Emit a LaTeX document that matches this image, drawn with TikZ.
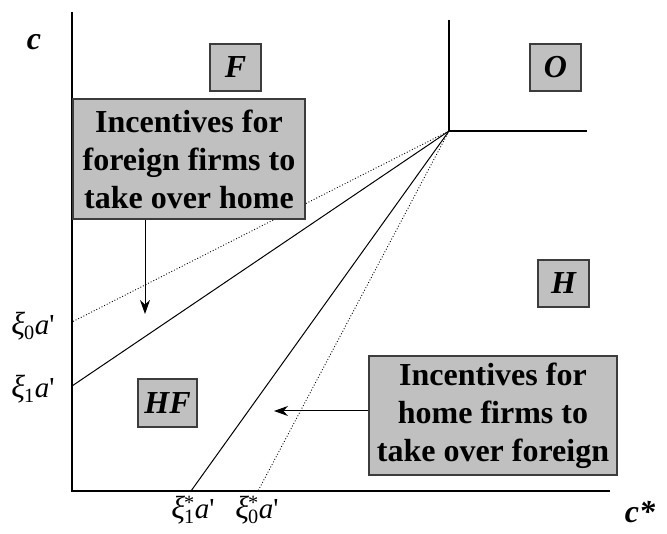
\documentclass[tikz,border=0pt]{standalone}
\usepackage{fontspec}
\setmainfont{Liberation Serif}
\newfontfamily\plainserif{Liberation Serif}[Ligatures=TeXOff]
\usetikzlibrary{arrows.meta}
\definecolor{boxgray}{RGB}{192,192,192}
\definecolor{boxline}{RGB}{60,60,60}
\newcommand\xiglyph{{\fontsize{32}{32}\selectfont\itshape ξ}}
\newcommand\prm{{\plainserif\char"0027}}
\newcommand\xil[1]{\xiglyph\kern-1pt\textsubscript{#1}{\itshape a}\prm}
\newcommand\xis[1]{\xiglyph\kern-1pt\rlap{\textsuperscript{*}}\textsubscript{#1}{\itshape a}\prm}
\begin{document}
\begin{tikzpicture}[x=1pt,y=-1pt,
  gbox/.style={draw=boxline,fill=boxgray,line width=1.1pt,inner sep=0pt,align=center},
  letter/.style={gbox,font=\fontsize{32}{38}\selectfont\bfseries\itshape},
  bigbox/.style={gbox,font=\fontsize{32}{38}\selectfont\bfseries},
  axislbl/.style={font=\fontsize{32}{38}\selectfont\bfseries\itshape},
  xilbl/.style={font=\fontsize{29}{32}\selectfont,inner sep=0pt},
  ax/.style={line width=1.2pt},
  ln/.style={line width=1pt},
  dt/.style={line width=0.9pt,dotted},
  arr/.style={line width=1pt,-{Stealth[length=14pt,width=10pt]}}]
\useasboundingbox (0,0) rectangle (667,534);
% axes
\coordinate (top) at (72,12);
\coordinate (orig) at (72,491);
\coordinate (xend) at (610,491);
\draw[ax] (top) -- (orig) -- (xend);
% kink point
\coordinate (K) at (449,131);
\coordinate (Ktop) at (449,20);
\coordinate (Kright) at (587,131);
\draw[ax] (Ktop) -- (K) -- (Kright);
% rays
\coordinate (y0) at (72,322);
\coordinate (y1) at (72,386);
\coordinate (x1) at (191,491);
\coordinate (x0) at (258,491);
\draw[dt] (K) -- (y0);
\draw[ln] (K) -- (y1);
\draw[ln] (K) -- (x1);
\draw[dt] (K) -- (x0);
% letter boxes
\node[letter,minimum width=51pt,minimum height=47pt] (F) at (235.5,67.5) {\raisebox{-6pt}{F}};
\node[letter,minimum width=51pt,minimum height=47pt] (O) at (555.5,67.5) {\raisebox{-6pt}{O}};
\node[letter,minimum width=51pt,minimum height=47pt] (H) at (563.5,283.5) {\raisebox{-2pt}{H}};
\node[letter,minimum width=59pt,minimum height=48pt] (HF) at (167.5,403) {HF};
% big boxes
\node[bigbox,minimum width=232pt,minimum height=120pt] (B1) at (189,159) {Incentives for\\foreign firms to\\take over home};
\node[bigbox,minimum width=248pt,minimum height=119pt] (B2) at (493,415.5) {Incentives for\\home firms to\\take over foreign};
% arrows
\coordinate (a1) at (145,314);
\draw[arr] (B1.south -| a1) -- (a1);
\coordinate (a2) at (274,411);
\draw[arr] (B2.west |- a2) -- (a2);
% labels
\node[axislbl] (c) at (34,42) {c};
\node[axislbl] (cs) at (640,512) {c*};
\node[xilbl] (l0) at (33,326) {\xil{0}};
\node[xilbl] (l1) at (33,389) {\xil{1}};
\node[xilbl] (l1s) at (193,510) {\xis{1}};
\node[xilbl] (l0s) at (257,510) {\xis{0}};
\end{tikzpicture}
\end{document}
